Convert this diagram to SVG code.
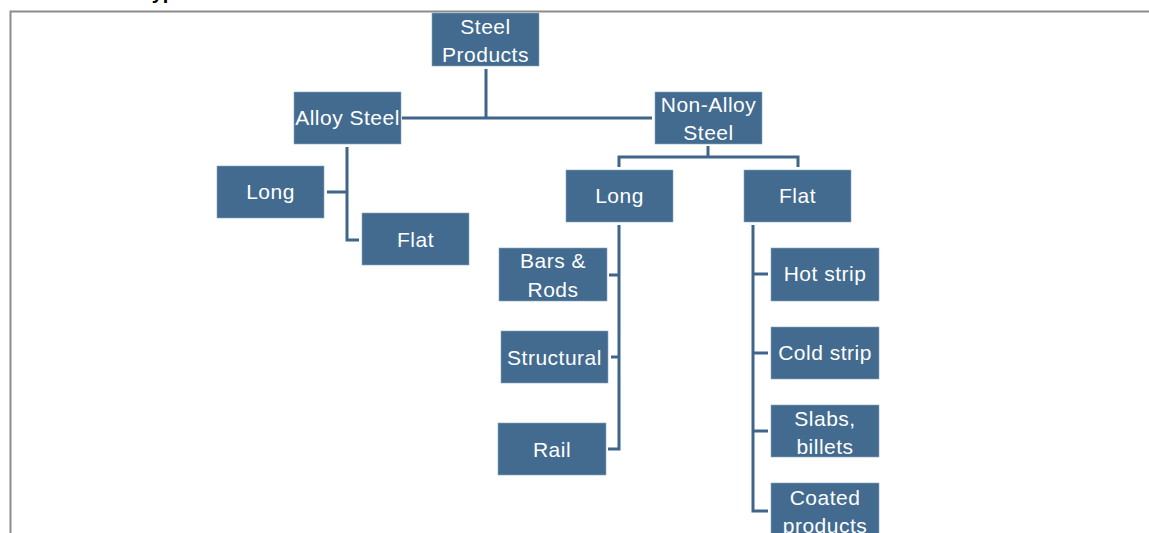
<svg xmlns="http://www.w3.org/2000/svg" width="1149" height="533" viewBox="0 0 1149 533">
<style>
.box{fill:#426B8F;stroke:#8aa5bd;stroke-width:0.6}
.t{font-family:"Liberation Sans",Arial,sans-serif;font-size:21px;fill:#ffffff;text-anchor:middle;letter-spacing:0.5px}
.c{fill:none;stroke:#3f668a;stroke-width:3}
</style>
<rect x="0" y="0" width="1149" height="533" fill="#ffffff"/>
<text x="141" y="-1" font-family="Liberation Sans,Arial,sans-serif" font-size="20" font-weight="bold" fill="#000">Types</text>
<path d="M10.5 533 V11.5 H1149" fill="none" stroke="#8c8c8c" stroke-width="2"/>
<g id="connectors">
<path class="c" d="M486 69 V118 M402 118 H652"/>
<path class="c" d="M708 146 V157 M619 167 V157 H798 V167"/>
<path class="c" d="M347 147 V240 H359 M327 192 H347"/>
<path class="c" d="M619 225 V449 H608 M609 275 H619 M611 357 H619"/>
<path class="c" d="M753 225 V511 H768 M753 274 H768 M753 353 H768 M753 431 H768"/>
</g>
<g id="steel-products"><rect class="box" x="432" y="13" width="107" height="53"/><text class="t" x="485.5" y="33.5">Steel</text><text class="t" x="485.5" y="61.5">Products</text></g>
<g id="alloy-steel"><rect class="box" x="294" y="92" width="107" height="52"/><text class="t" x="347.5" y="125">Alloy Steel</text></g>
<g id="non-alloy-steel"><rect class="box" x="655" y="92" width="107" height="52"/><text class="t" x="708.5" y="111.5">Non-Alloy</text><text class="t" x="708.5" y="139.5">Steel</text></g>
<g id="alloy-long"><rect class="box" x="217" y="166" width="107" height="52"/><text class="t" x="270.5" y="199">Long</text></g>
<g id="alloy-flat"><rect class="box" x="362" y="213" width="107" height="52"/><text class="t" x="415.5" y="247">Flat</text></g>
<g id="nonalloy-long"><rect class="box" x="566" y="170" width="107" height="52"/><text class="t" x="619.5" y="203">Long</text></g>
<g id="nonalloy-flat"><rect class="box" x="744" y="170" width="107" height="52"/><text class="t" x="797.5" y="203">Flat</text></g>
<g id="bars-rods"><rect class="box" x="499" y="248" width="108" height="53"/><text class="t" x="553" y="268">Bars &amp;</text><text class="t" x="553" y="296.5">Rods</text></g>
<g id="structural"><rect class="box" x="501" y="331" width="107" height="52"/><text class="t" x="554.5" y="365">Structural</text></g>
<g id="rail"><rect class="box" x="498" y="423" width="108" height="52"/><text class="t" x="552" y="457">Rail</text></g>
<g id="hot-strip"><rect class="box" x="771" y="248" width="108" height="53"/><text class="t" x="825" y="281">Hot strip</text></g>
<g id="cold-strip"><rect class="box" x="771" y="327" width="108" height="52"/><text class="t" x="825" y="360">Cold strip</text></g>
<g id="slabs-billets"><rect class="box" x="771" y="405" width="108" height="52"/><text class="t" x="825" y="426">Slabs,</text><text class="t" x="825" y="453.5">billets</text></g>
<g id="coated-products"><rect class="box" x="771" y="483" width="108" height="60"/><text class="t" x="825" y="505">Coated</text><text class="t" x="825" y="533">products</text></g>
</svg>
